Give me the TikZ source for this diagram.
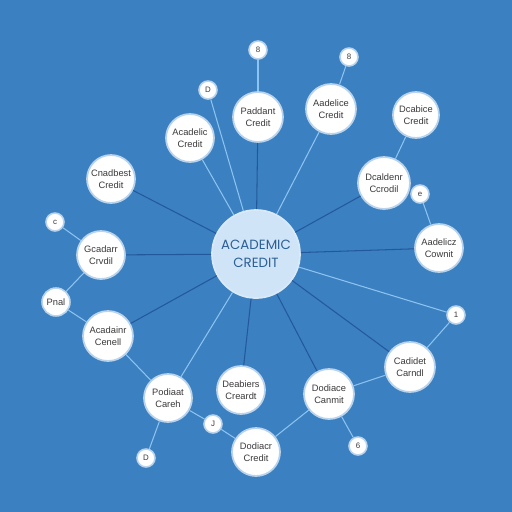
\documentclass[tikz,border=0pt]{standalone}
\usepackage{fontspec}
\setmainfont{Liberation Sans}
\newfontfamily\ctrfont{Poppins}
\definecolor{bgc}{HTML}{3B80C1}
\definecolor{ringc}{HTML}{B9D3EC}
\definecolor{txtc}{HTML}{3A3A3A}
\definecolor{lightln}{HTML}{8CC3F0}
\definecolor{darkln}{HTML}{23599C}
\definecolor{hubfill}{HTML}{CFE4F6}
\definecolor{hubtxt}{HTML}{2B5F96}
\tikzset{
  bubble/.style={circle, fill=white, draw=ringc, line width=1pt, inner sep=0pt,
    align=center, text=txtc, font=\fontsize{5.3}{6.6}\selectfont},
  dotnode/.style={circle, fill=white, draw=ringc, line width=0.9pt, inner sep=0pt,
    minimum size=0.36cm, text=txtc, font=\fontsize{4.5}{5}\selectfont},
  hub/.style={circle, fill=hubfill, draw=hubfill!80!white, line width=1pt, inner sep=0pt,
    minimum size=1.76cm, align=center, text=hubtxt, font=\ctrfont\fontsize{7.6}{10.5}\selectfont},
  lite/.style={draw=lightln, line width=0.6pt},
  dark/.style={draw=darkln, line width=0.6pt}
}
\begin{document}
\begin{tikzpicture}[x=0.02cm,y=-0.02cm]
\fill[bgc] (0,0) rectangle (512,512);
\useasboundingbox (0,0) rectangle (512,512);
% hub
\node[hub] (hub) at (256,254) {ACADEMIC\\CREDIT};
% bubbles
\node[bubble, minimum size=0.96cm] (n1) at (190,138) {Acadelic\\Credit};
\node[bubble, minimum size=1.0cm] (n2) at (258,117) {Paddant\\Credit};
\node[bubble, minimum size=1.0cm] (n3) at (331,109) {Aadelice\\Credit};
\node[bubble, minimum size=0.92cm] (n4) at (416,115) {Dcabice\\Credit};
\node[bubble, minimum size=1.04cm] (n5) at (384,183) {Dcaldenr\\Ccrodil};
\node[bubble, minimum size=0.96cm] (n6) at (439,248) {Aadelicz\\Cownit};
\node[bubble, minimum size=0.96cm] (n7) at (111,179) {Cnadbest\\Credit};
\node[bubble, minimum size=0.96cm] (n8) at (101,255) {Gcadarr\\Crvdil};
\node[bubble, minimum size=1.0cm] (n9) at (108,336) {Acadainr\\Cenell};
\node[bubble, minimum size=0.96cm] (n10) at (168,398) {Podiaat\\Careh};
\node[bubble, minimum size=0.96cm] (n11) at (241,390) {Deabiers\\Creardt};
\node[bubble, minimum size=0.96cm] (n12) at (256,452) {Dodiacr\\Credit};
\node[bubble, minimum size=1.0cm] (n13) at (329,394) {Dodiace\\Canmit};
\node[bubble, minimum size=1.0cm] (n14) at (410,367) {Cadidet\\Carndl};
% small dots
\node[dotnode] (a) at (258,50) {8};
\node[dotnode] (b) at (349,57) {8};
\node[dotnode] (c) at (208,90) {D};
\node[dotnode] (d) at (420,194) {e};
\node[dotnode] (e) at (55,222) {c};
\node[dotnode, minimum size=0.56cm, font=\fontsize{5.3}{6}\selectfont] (f) at (56,302) {Pnal};
\node[dotnode] (g) at (456,315) {1};
\node[dotnode] (h) at (213,424) {J};
\node[dotnode] (i) at (146,458) {D};
\node[dotnode] (j) at (358,446) {6};
% connectors from hub
\draw[lite] (hub) -- (n1);
\draw[lite] (hub) -- (c);
\draw[dark] (hub) -- (n2);
\draw[lite] (hub) -- (n3);
\draw[dark] (hub) -- (n5);
\draw[dark] (hub) -- (n6);
\draw[lite] (hub) -- (g);
\draw[dark] (hub) -- (n14);
\draw[dark] (hub) -- (n13);
\draw[dark] (hub) -- (n11);
\draw[lite] (hub) -- (n10);
\draw[dark] (hub) -- (n9);
\draw[dark] (hub) -- (n8);
\draw[dark] (hub) -- (n7);
% other connectors
\draw[lite] (a) -- (n2);
\draw[lite] (n3) -- (b);
\draw[lite] (n4) -- (n5);
\draw[lite] (d) -- (n6);
\draw[lite] (g) -- (n14);
\draw[lite] (n13) -- (n14);
\draw[lite] (n13) -- (j);
\draw[lite] (n13) -- (n12);
\draw[lite] (n10) -- (h);
\draw[lite] (h) -- (n12);
\draw[lite] (n10) -- (i);
\draw[lite] (n9) -- (n10);
\draw[lite] (n9) -- (f);
\draw[lite] (f) -- (n8);
\draw[lite] (n8) -- (e);
\end{tikzpicture}
\end{document}
